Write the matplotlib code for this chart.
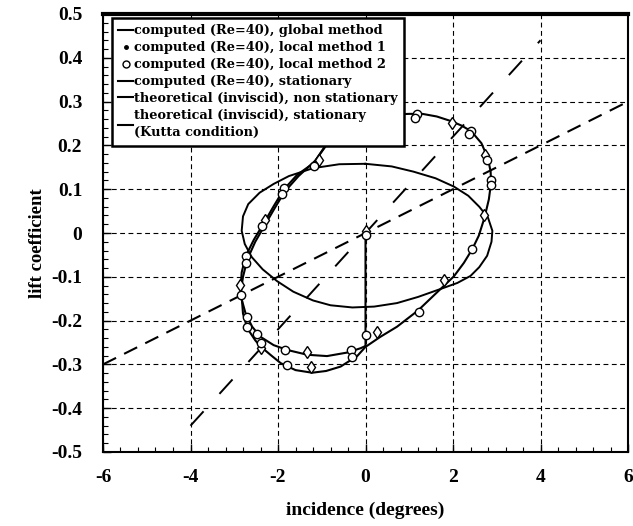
import matplotlib
matplotlib.use("Agg")
import matplotlib.pyplot as plt
from matplotlib.lines import Line2D
from matplotlib.ticker import MultipleLocator, FixedLocator

plt.rcParams['lines.scale_dashes'] = False

# ---------------- data ----------------
x_ticks = [-6, -4, -2, 0, 2, 4, 6]
x_tick_labels = ["-6", "-4", "-2", "0", "2", "4", "6"]
y_ticks = [0.5, 0.4, 0.3, 0.2, 0.1, 0, -0.1, -0.2, -0.3, -0.4, -0.5]
y_tick_labels = ["0.5", "0.4", "0.3", "0.2", "0.1", "0", "-0.1", "-0.2", "-0.3", "-0.4", "-0.5"]

# computed (Re=40), global method - first pass (start at 0,0)
glob1_x = [0.0, 0.0, 0.34, 0.72, 1.2, 1.64, 2.02, 2.25, 2.44, 2.59, 2.72, 2.82, 2.87, 2.86,
           2.8, 2.65, 2.42, 2.2, 1.97, 1.63, 1.3, 1.0, 0.5, 0.0, -0.5, -0.88, -1.18, -1.56,
           -1.87, -2.1, -2.32, -2.55, -2.74, -2.83, -2.85, -2.83, -2.8, -2.7, -2.52, -2.4,
           -2.15, -1.94, -1.6, -1.22, -0.9, -0.57, -0.19, 0.0]
glob1_y = [0.0, -0.26, -0.237, -0.214, -0.177, -0.135, -0.099, -0.068, -0.037, -0.006, 0.035,
           0.077, 0.115, 0.14, 0.17, 0.205, 0.232, 0.245, 0.255, 0.266, 0.272, 0.272, 0.27,
           0.262, 0.24, 0.205, 0.16, 0.133, 0.099, 0.061, 0.023, -0.015, -0.053, -0.09,
           -0.12, -0.145, -0.184, -0.218, -0.245, -0.259, -0.28, -0.297, -0.313, -0.319,
           -0.315, -0.305, -0.281, -0.26]
# second pass (upper left doubled line and inner lower branch)
glob2_x = [-0.86, -1.15, -1.53, -1.85, -2.08, -2.3, -2.52, -2.7, -2.8, -2.86, -2.74, -2.59,
           -2.4, -2.1, -1.79, -1.33, -0.88, -0.42, -0.11, 0.0]
glob2_y = [0.205, 0.165, 0.13, 0.094, 0.056, 0.018, -0.02, -0.06, -0.1, -0.141, -0.184,
           -0.214, -0.237, -0.256, -0.267, -0.278, -0.281, -0.273, -0.263, -0.258]

# computed (Re=40), local method 1 (diamonds)
loc1_x = [0.02, 1.97, 2.74, 2.7, 1.79, 0.27, -1.33, -1.24, -2.4, -2.86, -2.29, -1.07]
loc1_y = [0.004, 0.252, 0.178, 0.04, -0.107, -0.225, -0.271, -0.306, -0.263, -0.118, 0.03, 0.167]

# computed (Re=40), local method 2 (circles)
loc2_x = [0.0, 1.17, 1.12, 2.4, 2.36, 2.78, 2.86, 2.87, 2.44, 1.23, 0.0, -0.34, -0.3,
          -1.83, -1.8, -2.48, -2.4, -2.7, -2.7, -2.84, -2.74, -2.74, -2.36, -1.87, -1.9, -1.18]
loc2_y = [-0.004, 0.272, 0.262, 0.233, 0.226, 0.167, 0.12, 0.11, -0.037, -0.18, -0.233,
          -0.266, -0.284, -0.268, -0.302, -0.23, -0.25, -0.191, -0.214, -0.141, -0.053,
          -0.068, 0.015, 0.103, 0.088, 0.152]

# computed (Re=40), stationary
stat_x = [-6.0, 6.0]
stat_y = [-0.30, 0.30]

# theoretical (inviscid), non stationary
ell_x = [0.0, 0.6, 1.1, 1.6, 2.02, 2.35, 2.6, 2.8, 2.9, 2.88, 2.78, 2.6, 2.4, 2.1, 1.71,
         1.2, 0.72, 0.2, -0.3, -0.8, -1.2, -1.65, -2.02, -2.35, -2.6, -2.76, -2.83, -2.8,
         -2.68, -2.42, -2.1, -1.75, -1.2, -0.6, 0.0]
ell_y = [0.158, 0.152, 0.14, 0.125, 0.106, 0.085, 0.06, 0.035, 0.005, -0.02, -0.052,
         -0.078, -0.098, -0.114, -0.128, -0.146, -0.16, -0.168, -0.17, -0.165, -0.154,
         -0.134, -0.11, -0.083, -0.055, -0.025, 0.005, 0.038, 0.066, 0.092, 0.112, 0.13,
         0.148, 0.157, 0.158]

# theoretical (inviscid), stationary (Kutta condition)
kutta_x = [-4.0, 4.0]
kutta_y = [-0.44, 0.44]

labels = ["computed (Re=40), global method",
          "computed (Re=40), local method 1",
          "computed (Re=40), local method 2",
          "computed (Re=40), stationary",
          "theoretical (inviscid), non stationary",
          "theoretical (inviscid), stationary\n(Kutta condition)"]

# ---------------- figure ----------------
fig = plt.figure(figsize=(6.33, 5.26), dpi=100)
ax = fig.add_axes([103/633, (526-452)/526, 525/633, 438/526])

serif = ['Liberation Serif', 'DejaVu Serif']

ax.plot(stat_x, stat_y, color='k', lw=1.5, linestyle=(0, (10.5, 6.5)), zorder=2)
ax.plot(kutta_x, kutta_y, color='k', lw=1.4, linestyle=(0, (14, 17)), zorder=2)
ax.plot(ell_x, ell_y, color='k', lw=1.4, zorder=3)
ax.plot(glob1_x, glob1_y, color='k', lw=1.5, zorder=3)
ax.plot(glob2_x, glob2_y, color='k', lw=1.5, zorder=3)
ax.plot(loc1_x, loc1_y, linestyle='none', marker='d', ms=6, mfc='white', mec='k', mew=1.0, zorder=4)
ax.plot(loc2_x, loc2_y, linestyle='none', marker='o', ms=6, mfc='white', mec='k', mew=1.0, zorder=4)

ax.set_xlim(-6, 6)
ax.set_ylim(-0.5, 0.5)
ax.xaxis.set_major_locator(FixedLocator(x_ticks))
ax.set_xticklabels(x_tick_labels)
ax.yaxis.set_major_locator(FixedLocator(y_ticks))
ax.set_yticklabels(y_tick_labels)
ax.xaxis.set_minor_locator(MultipleLocator(0.4))
ax.yaxis.set_minor_locator(MultipleLocator(0.02))

ax.grid(True, which='major', color='k', lw=0.8, linestyle=(0, (3.5, 2.5)))
ax.set_axisbelow(True)

ax.tick_params(which='both', direction='in', top=False, right=False, colors='k')
ax.tick_params(which='major', length=6, width=1.0)
ax.tick_params(which='minor', length=3.5, width=0.8)
ax.tick_params(axis='x', pad=12)
ax.tick_params(axis='y', pad=15)
for lab in ax.get_xticklabels() + ax.get_yticklabels():
    lab.set_fontfamily(serif)
    lab.set_fontweight('bold')
    lab.set_fontsize(14)

for side in ['left', 'right', 'bottom']:
    ax.spines[side].set_linewidth(1.5)
ax.spines['top'].set_linewidth(3.0)

ax.set_xlabel("incidence (degrees)", fontfamily=serif, fontweight='bold', fontsize=14)
ax.xaxis.label.set_va('center')
ax.xaxis.set_label_coords(0.5, (452-510)/438)
ax.set_ylabel("lift coefficient", fontfamily=serif, fontweight='bold', fontsize=13.5)
ax.yaxis.label.set_va('center')
ax.yaxis.set_label_coords((38-103)/525, (452-243)/438)

handles = [Line2D([], [], color='k', lw=1.5),
           Line2D([], [], linestyle='none', marker='.', ms=5, color='k'),
           Line2D([], [], linestyle='none', marker='o', ms=5, mfc='white', mec='k', mew=1.0),
           Line2D([], [], color='k', lw=1.5),
           Line2D([], [], color='k', lw=1.5),
           Line2D([], [], color='k', lw=1.5)]
leg = ax.legend(handles, labels, loc='upper left', bbox_to_anchor=((112-103)/525, (452-18)/438),
                borderaxespad=0, borderpad=0.5, handlelength=1.1, handletextpad=0.1,
                labelspacing=0.3, fancybox=False, framealpha=1, edgecolor='k',
                prop={'family': 'DejaVu Serif', 'weight': 'bold', 'size': 9.3})
leg.get_frame().set_linewidth(1.8)
leg.get_texts()[5].set_linespacing(1.45)
leg.set_zorder(10)

fig.savefig("out.png", dpi=100)
